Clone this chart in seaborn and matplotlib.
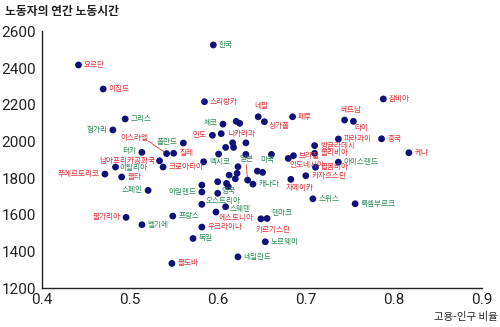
import matplotlib
matplotlib.use("Agg")
import matplotlib.pyplot as plt
import seaborn as sns
import pandas as pd

sns.set_theme(style="white")
plt.rcParams['font.family'] = ['Noto Sans CJK KR', 'DejaVu Sans']

# ---- data ----
countries = ["한국", "요르단", "이집트", "스리랑카", "잠비아", "네팔", "싱가폴", "페루", "베트남", "타이",
             "파라과이", "중국", "케냐", "인도", "니카라과", "체코", "그리스", "헝가리", "이스라엘", "칠레",
             "폴란드", "터키", "남아프리카공화국", "크로아티아", "이탈리아", "푸에르토리코", "몰타", "스페인",
             "멕시코", "브라질", "인도네시아", "방글라데시", "볼리비아", "콜롬비아", "아이스랜드", "카자흐스탄",
             "자메이카", "일본", "미국", "캐나다", "아일랜드", "영국", "오스트리아", "스웨덴", "에스토니아",
             "우크라이나", "덴마크", "키르기스탄", "노르웨이", "네덜란드", "독일", "몰도바", "프랑스", "벨기에",
             "불가리아", "스위스", "룩셈부르크"]
emp_ratio = [0.595, 0.442, 0.470, 0.585, 0.788, 0.646, 0.653, 0.685, 0.744, 0.754,
             0.737, 0.786, 0.817, 0.594, 0.604, 0.606, 0.495, 0.481, 0.542, 0.550,
             0.561, 0.514, 0.534, 0.538, 0.484, 0.472, 0.491, 0.521,
             0.584, 0.686, 0.680, 0.710, 0.710, 0.711, 0.737, 0.700,
             0.683, 0.634, 0.651, 0.640, 0.582, 0.600, 0.582, 0.609, 0.598,
             0.582, 0.656, 0.649, 0.654, 0.623, 0.572, 0.548, 0.549, 0.514,
             0.496, 0.708, 0.756]
hours = [2526, 2417, 2286, 2217, 2232, 2135, 2108, 2135, 2117, 2110,
         2014, 2015, 1939, 2034, 2043, 2095, 2123, 2063, 1934, 1936,
         1992, 1941, 1895, 1861, 1861, 1823, 1807, 1734,
         1890, 1923, 1908, 1978, 1936, 1860, 1888, 1814,
         1794, 1790, 1832, 1768, 1725, 1718, 1658, 1645, 1616,
         1534, 1581, 1579, 1454, 1372, 1472, 1336, 1594, 1547,
         1587, 1688, 1661]
oecd = ["한국", "체코", "그리스", "헝가리", "폴란드", "터키", "이탈리아", "스페인", "멕시코", "아이스랜드",
        "일본", "미국", "캐나다", "아일랜드", "영국", "오스트리아", "스웨덴", "덴마크", "노르웨이",
        "네덜란드", "독일", "프랑스", "벨기에", "스위스", "룩셈부르크"]

# unlabeled countries
other_ratio = [0.621, 0.625, 0.617, 0.632, 0.609, 0.618, 0.601, 0.632, 0.661, 0.623,
               0.645, 0.622, 0.620, 0.613, 0.600, 0.610, 0.612, 0.582]
other_hours = [2110, 2099, 1993, 1993, 1968, 1968, 1932, 1930, 1930, 1863,
               1839, 1827, 1797, 1817, 1781, 1772, 1754, 1763]

title = "노동자의 연간 노동시간"
xlabel = "고용-인구 비율"
xticks = [0.4, 0.5, 0.6, 0.7, 0.8, 0.9]
yticks = [1200, 1400, 1600, 1800, 2000, 2200, 2400, 2600]

# ---- style ----
NAVY = "#10107a"
RED = "#e4363d"
GREEN = "#2e8b57"

# label placement (offset in points, horizontal alignment)
label_pos = {
    "헝가리": (-4, 0, "right"), "푸에르토리코": (-4, 0, "right"), "불가리아": (-4, 0, "right"),
    "인도": (-4, 0, "right"), "남아프리카공화국": (-3, 0, "right"), "아일랜드": (-4, 0, "right"),
    "스페인": (-4, 0, "right"), "터키": (-4, 1, "right"), "폴란드": (-4, 1, "right"),
    "체코": (-4, 1, "right"), "네팔": (-3, 8, "left"), "싱가폴": (3, -3, "left"),
    "베트남": (-3, 7, "left"), "타이": (1, -5, "left"), "에스토니아": (2, -4, "left"),
    "덴마크": (3, 4, "left"), "키르기스탄": (-4, -8, "left"), "자메이카": (-4, -6, "left"),
    "인도네시아": (1, -5, "left"), "미국": (-2, 9, "left"), "오스트리아": (3, 2.5, "left"),
    "이스라엘": (-13, 11, "right"), "일본": (-6, 15, "left"), "이탈리아": (3, -1, "left"),
    "스웨덴": (3, -2, "left"), "영국": (3, 2, "left"),
}

df = pd.DataFrame({"x": emp_ratio, "y": hours, "name": countries})
df_other = pd.DataFrame({"x": other_ratio, "y": other_hours})

fig = plt.figure(figsize=(5.0, 3.27), dpi=100)
ax = fig.add_axes([0.083, 0.118, 0.881, 0.786])

sns.scatterplot(data=df_other, x="x", y="y", ax=ax, color=NAVY, s=24, edgecolor="none", zorder=3)
sns.scatterplot(data=df, x="x", y="y", ax=ax, color=NAVY, s=24, edgecolor="none", zorder=3)

for name, x, y in zip(countries, emp_ratio, hours):
    col = GREEN if name in oecd else RED
    dx, dy, ha = label_pos.get(name, (4, 0, "left"))
    ax.annotate(name, (x, y), xytext=(dx, dy), textcoords="offset points",
                ha=ha, va="center", fontsize=5.5, color=col, zorder=4)
    if name == "이스라엘":
        ax.annotate("", (x, y), xytext=(-13, 9), textcoords="offset points",
                    arrowprops=dict(arrowstyle="-", color=RED, lw=0.6, shrinkA=0, shrinkB=2))
    if name == "일본":
        ax.annotate("", (x, y), xytext=(-1, 11), textcoords="offset points",
                    arrowprops=dict(arrowstyle="-", color=RED, lw=0.6, shrinkA=0, shrinkB=2))

ax.set_xlim(0.4, 0.9)
ax.set_ylim(1200, 2600)
ax.set_xticks(xticks)
ax.set_yticks(yticks)
ax.set_xticklabels([f"{t:.1f}" for t in xticks], family="Roboto", fontsize=11, color="#222222")
ax.set_yticklabels([str(t) for t in yticks], family="Roboto", fontsize=11, color="#222222")
ax.tick_params(axis="both", direction="in", length=4, width=0.8, color="#333333", pad=4)
ax.tick_params(axis="x", pad=3)
for s in ["top", "right"]:
    ax.spines[s].set_visible(False)
for s in ["left", "bottom"]:
    ax.spines[s].set_color("#222222")
    ax.spines[s].set_linewidth(1.0)
ax.set_xlabel("")
ax.set_ylabel("")

fig.text(0.01, 0.965, title, fontsize=8.5, fontweight="bold", color="#222222", va="center", ha="left")
fig.text(0.995, 0.032, xlabel, fontsize=7.5, color="#222222", va="center", ha="right")

fig.savefig("out.png", dpi=100, facecolor="white")
